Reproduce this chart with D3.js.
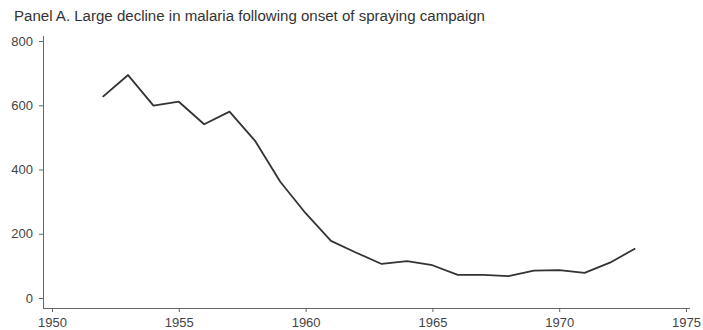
<!DOCTYPE html>
<html><head><meta charset="utf-8">
<script src="https://cdn.jsdelivr.net/npm/d3@7"></script>
<style>body{margin:0;background:#fff}svg{display:block}</style>
</head><body>
<svg id="c" width="703" height="330"></svg>
<script>
const years = [1952,1953,1954,1955,1956,1957,1958,1959,1960,1961,1962,1963,1964,1965,1966,1967,1968,1969,1970,1971,1972,1973];
const cases = [626,694,599,611,541,580,490,362,264,178,141,106,115,102,72,72,68,85,87,78,110,154];
const xTicks = [1950,1955,1960,1965,1970,1975];
const yTicks = [0,200,400,600,800];
const title = "Panel A. Large decline in malaria following onset of spraying campaign";

const svg = d3.select("#c");
const x = d3.scaleLinear().domain([1950,1975]).range([52,686]);
const y = d3.scaleLinear().domain([0,800]).range([298,41]);
const axisColor = "#666", textColor = "#444";
const font = "Liberation Sans, Arial, sans-serif";

svg.append("text").attr("x",14).attr("y",21).attr("font-family",font).attr("font-size",14)
  .attr("textLength",471).attr("lengthAdjust","spacingAndGlyphs")
  .attr("fill","#333").text(title);

const gx = svg.append("g").attr("transform","translate(0,308)")
  .call(d3.axisBottom(x).tickValues(xTicks).tickFormat(d3.format("d")).tickSize(4).tickSizeOuter(0));
gx.select(".domain").attr("d","M43,0.5H690");
const gy = svg.append("g").attr("transform","translate(43,0)")
  .call(d3.axisLeft(y).tickValues(yTicks).tickSize(4).tickSizeOuter(0).tickPadding(6));
gy.select(".domain").attr("d","M0.5,36V308");
[gx,gy].forEach(g=>{
  g.selectAll(".domain,line").attr("stroke",axisColor);
  g.selectAll("text").attr("fill",textColor).attr("font-family",font).attr("font-size",13);
});
gx.selectAll("text").attr("y",19).attr("dy",0);

svg.append("path").datum(years.map((d,i)=>[d,cases[i]]))
  .attr("fill","none").attr("stroke","#333").attr("stroke-width",1.8).attr("stroke-linejoin","round")
  .attr("d",d3.line().x(d=>x(d[0])).y(d=>y(d[1])));
</script>
</body></html>
